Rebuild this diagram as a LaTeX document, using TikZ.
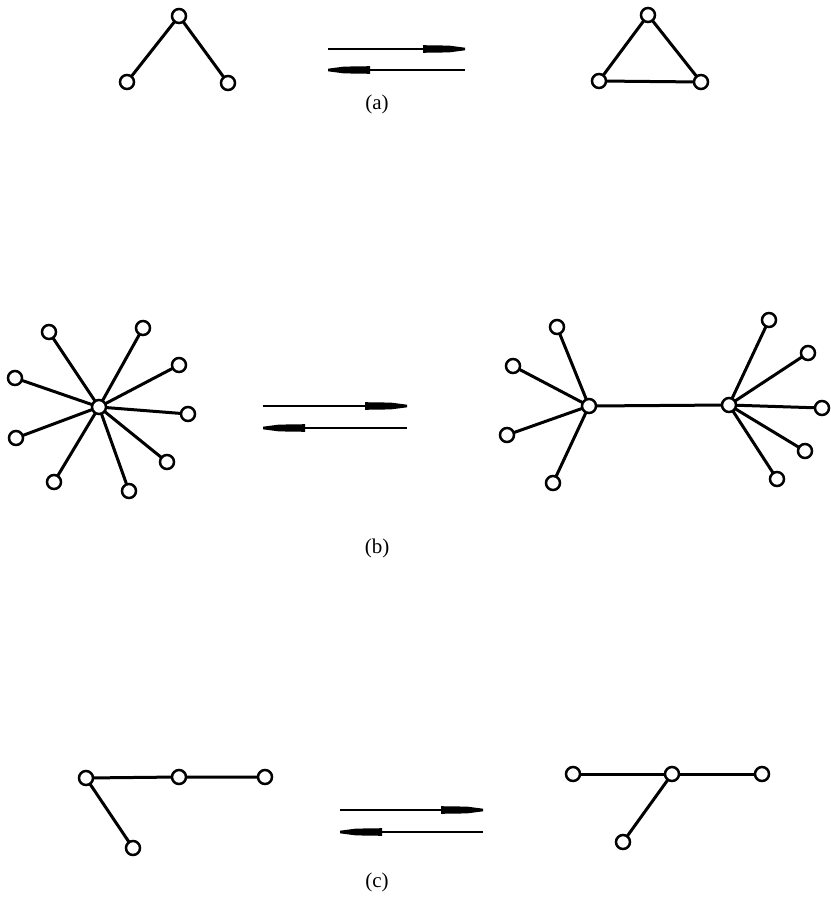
\documentclass[tikz,border=0pt]{standalone}
\usepackage{fontspec}
\setmainfont{Liberation Serif}
\tikzset{
  vx/.style={circle,draw,line width=2.5pt,fill=white,inner sep=0pt,minimum size=14pt},
  ed/.style={line width=3pt},
  thinline/.style={line width=1.2pt},
  lbl/.style={font=\fontsize{21}{24}\selectfont,inner sep=0pt},
  headR/.pic={\fill (-42,-3.8) -- (-16,-3.4) -- (0,-1.3) -- (0,1.3) -- (-16,3.4) -- (-42,3.8) -- cycle;},
  headL/.pic={\fill (42,-3.8) -- (16,-3.4) -- (0,-1.3) -- (0,1.3) -- (16,3.4) -- (42,3.8) -- cycle;}
}
\begin{document}
\begin{tikzpicture}[x=1pt,y=-1pt]
\useasboundingbox (0,0) rectangle (830,915);
% ---------- (a)
\coordinate (aAs) at (328,49); \coordinate (aAe) at (465,49);
\coordinate (aBs) at (465,70); \coordinate (aBe) at (328,70);
\coordinate (a1) at (179,16); \coordinate (a2) at (127,82); \coordinate (a3) at (228,83);
\draw[ed] (a2) -- (a1) -- (a3);
\node[vx] (n1) at (a1) {}; \node[vx] (n2) at (a2) {}; \node[vx] (n3) at (a3) {};
\coordinate (a4) at (648,15); \coordinate (a5) at (599,81); \coordinate (a6) at (701,82);
\draw[ed] (a4) -- (a5) -- (a6) -- cycle;
\node[vx] (n4) at (a4) {}; \node[vx] (n5) at (a5) {}; \node[vx] (n6) at (a6) {};
\draw[thinline] (aAs) -- (aAe); \pic at (aAe) {headR};
\draw[thinline] (aBs) -- (aBe); \pic at (aBe) {headL};
\node[lbl] (la) at (377,104) {(a)};
% ---------- (b)
\coordinate (bc) at (99,407);
\foreach \x/\y [count=\i] in {49/332,143/328,179/365,15/378,188/414,16/438,167/462,54/482,129/491}{
  \coordinate (bl\i) at (\x,\y);
  \draw[ed] (bc) -- (bl\i);
  \node[vx] (sl\i) at (bl\i) {};
}
\node[vx] (sc) at (bc) {};
\coordinate (bL) at (589,406); \coordinate (bR) at (729,405);
\draw[ed] (bL) -- (bR);
\foreach \x/\y [count=\i] in {557/327,513/366,507/435,553/483}{
  \coordinate (bll\i) at (\x,\y);
  \draw[ed] (bL) -- (bll\i);
  \node[vx] (tl\i) at (bll\i) {};
}
\foreach \x/\y [count=\i] in {769/320,808/353,822/408,805/451,777/479}{
  \coordinate (brr\i) at (\x,\y);
  \draw[ed] (bR) -- (brr\i);
  \node[vx] (tr\i) at (brr\i) {};
}
\node[vx] (hL) at (bL) {}; \node[vx] (hR) at (bR) {};
\coordinate (bAs) at (263,406); \coordinate (bAe) at (407,406);
\coordinate (bBs) at (407,428); \coordinate (bBe) at (263,428);
\draw[thinline] (bAs) -- (bAe); \pic at (bAe) {headR};
\draw[thinline] (bBs) -- (bBe); \pic at (bBe) {headL};
\node[lbl] (lb) at (377,548) {(b)};
% ---------- (c)
\coordinate (c1) at (86,778); \coordinate (c2) at (179,777); \coordinate (c3) at (265,777); \coordinate (c4) at (133,848);
\draw[ed] (c1) -- (c2) -- (c3); \draw[ed] (c1) -- (c4);
\foreach \i in {1,...,4}{\node[vx] (cn\i) at (c\i) {};}
\coordinate (d1) at (573,774); \coordinate (d2) at (672,774); \coordinate (d3) at (762,774); \coordinate (d4) at (623,842);
\draw[ed] (d1) -- (d2) -- (d3); \draw[ed] (d2) -- (d4);
\foreach \i in {1,...,4}{\node[vx] (dn\i) at (d\i) {};}
\coordinate (cAs) at (340,810); \coordinate (cAe) at (483,810);
\coordinate (cBs) at (483,832); \coordinate (cBe) at (340,832);
\draw[thinline] (cAs) -- (cAe); \pic at (cAe) {headR};
\draw[thinline] (cBs) -- (cBe); \pic at (cBe) {headL};
\node[lbl] (lc) at (377,882) {(c)};
\end{tikzpicture}
\end{document}
